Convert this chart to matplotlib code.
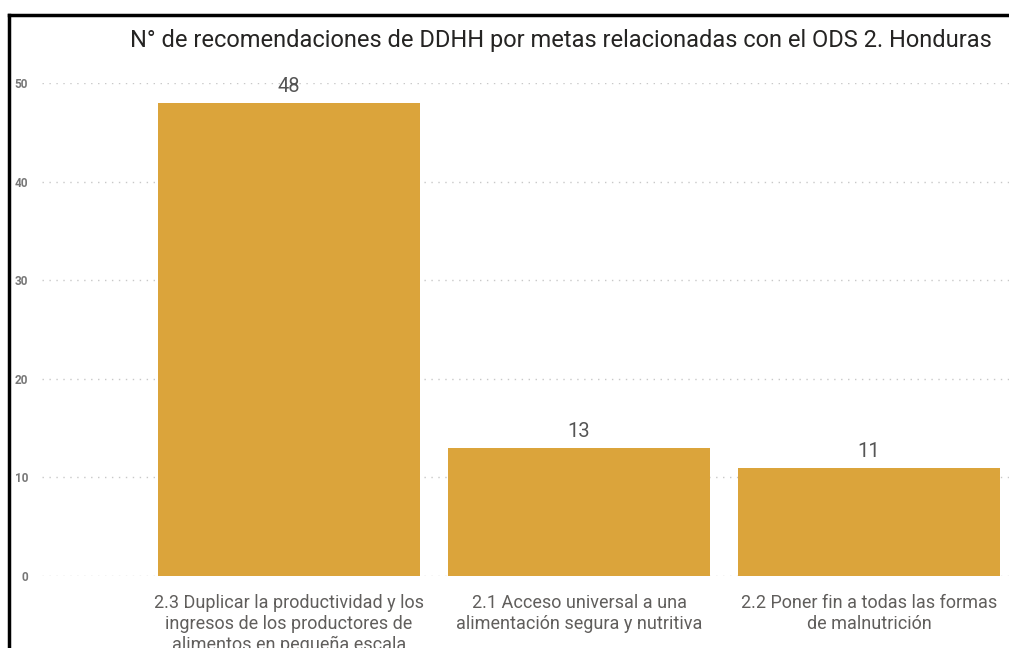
import matplotlib
matplotlib.use("Agg")
import matplotlib.pyplot as plt
from matplotlib.lines import Line2D

categories = [
    "2.3 Duplicar la productividad y los\ningresos de los productores de\nalimentos en pequeña escala",
    "2.1 Acceso universal a una\nalimentación segura y nutritiva",
    "2.2 Poner fin a todas las formas\nde malnutrición",
]
values = [48, 13, 11]
yticks = [0, 10, 20, 30, 40, 50]
title = "N° de recomendaciones de DDHH por metas relacionadas con el ODS 2. Honduras"

W, H = 1009, 648
fig = plt.figure(figsize=(W / 100, H / 100), dpi=100)
plt.rcParams['font.family'] = ['Roboto', 'DejaVu Sans']

ax = fig.add_axes([42 / W, 1 - 576 / H, 1 - 42 / W, (576 - 83) / H])
x = list(range(len(values)))
ax.bar(x, values, width=262 / 290, color="#DBA43B", zorder=2)
ax.set_xlim((42 - 289) / 290, (1009 - 289) / 290)
ax.set_ylim(0, 50)
ax.set_yticks(yticks)
ax.set_yticklabels([str(t) for t in yticks], fontsize=8.5, color="#777777", fontweight="bold")
ax.tick_params(axis="y", length=0, pad=10)
ax.set_xticks(x)
ax.set_xticklabels(categories, fontsize=13, color="#605E5C", linespacing=1.2)
ax.tick_params(axis="x", length=0, pad=13)
for lbl in ax.get_xticklabels():
    lbl.set_verticalalignment("top")
ax.grid(axis="y", color="#C8C8C8", linestyle=(0, (1, 4)), linewidth=1, zorder=0)
for s in ax.spines.values():
    s.set_visible(False)
for xi, v in zip(x, values):
    ax.annotate(str(v), (xi, v), xytext=(0, 5), textcoords="offset points",
                ha="center", va="bottom", fontsize=14.5, color="#555555", clip_on=False)

fig.text(992 / W, 1 - 40 / H, title, ha="right", va="center", fontsize=17, color="#252423")

fig.add_artist(Line2D([9 / W, 1], [1 - 15 / H, 1 - 15 / H], color="black", linewidth=2.5, transform=fig.transFigure))
fig.add_artist(Line2D([9 / W, 9 / W], [0, 1 - 15 / H], color="black", linewidth=2.5, transform=fig.transFigure))

fig.savefig("out.png", dpi=100, facecolor="white")
